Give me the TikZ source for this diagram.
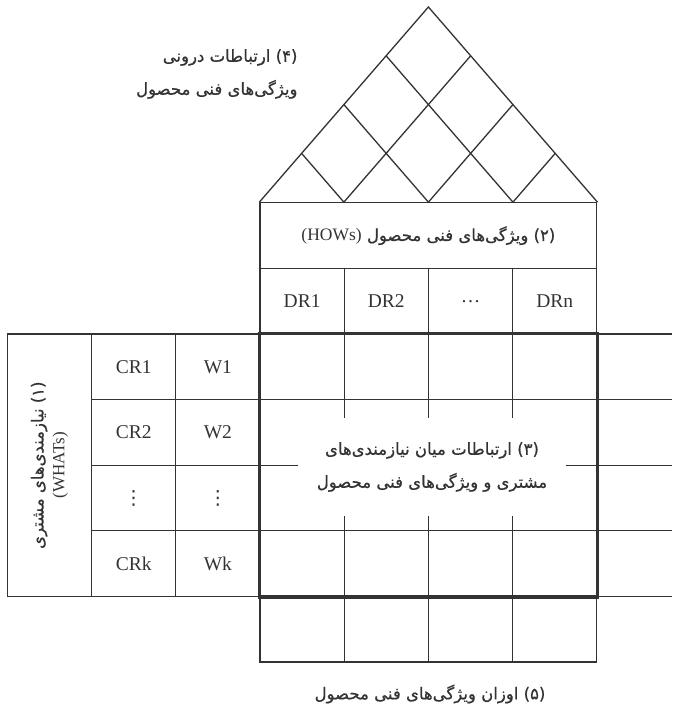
\documentclass[tikz,border=0pt]{standalone}
\usepackage{fontspec}
\setmainfont{Liberation Serif}
\newfontfamily\fa[Script=Arabic,FakeBold=0.6]{DejaVu Sans}
\newfontfamily\symfont{DejaVu Sans}
\usetikzlibrary{calc,positioning}
\TeXXeTstate=1
\colorlet{QfdLine}{black!80}
\colorlet{QfdText}{black!80}

\begin{document}
\begin{tikzpicture}[x=1pt,y=-1pt,every node/.style={text=QfdText},
    cell/.style={draw=QfdLine,line width=1.3pt,minimum width=84.2pt,minimum height=65.6pt,inner sep=0pt,font=\fontsize{19.5}{22}\selectfont},
    fa/.style={font=\fa\fontsize{16.5}{33}\selectfont,align=center},
    lat/.style={font=\rmfamily\fontsize{17}{20}\selectfont}]
    \useasboundingbox (0,0) rectangle (672,706);
    % main matrix
    \foreach \r in {0,...,3}{\foreach \c in {0,...,3}{\node[cell] (m\r\c) at ({302.1+84.2*\c},{366.8+65.6*\r}) {};}}
    \node[fa,fill=white,minimum width=268pt,minimum height=98pt] (rel) at (432,467) {\beginR (۳) ارتباطات میان نیازمندی^^^^200cهای\endR\\\beginR مشتری و ویژگی^^^^200cهای فنی محصول\endR};
    % whats
    \node[cell,rotate=90,minimum width=262.4pt,minimum height=84.2pt,align=center,font=\fa\fontsize{16.5}{21}\selectfont] (whats) at (49.5,465.2) {\beginR (۱) نیازمندی^^^^200cهای مشتری\endR\\{\rmfamily\fontsize{17}{20}\selectfont (WHATs)}};
    \foreach \lab/\w [count=\r from 0] in {CR1/W1,CR2/W2,{\symfont ⋮}/{\symfont ⋮},CRk/Wk}{
      \node[cell] (cr\r) at (133.7,{366.8+65.6*\r}) {\lab};
      \node[cell] (w\r) at (217.9,{366.8+65.6*\r}) {\w};
    }
    % hows
    \foreach \lab [count=\c from 0] in {DR1,DR2,\ldots,DRn}{\node[cell] (dr\c) at ({302.1+84.2*\c},301.2) {\lab};}
    \node[cell,minimum width=336.8pt,font=\fa\fontsize{16.5}{20}\selectfont] (hows) at (428.4,235.6) {\beginR (۲) ویژگی^^^^200cهای فنی محصول \beginL{\rmfamily\fontsize{17.5}{20}\selectfont (HOWs)}\endL\endR};
    % weights
    \foreach \c in {0,...,3}{\node[cell] (wt\c) at ({302.1+84.2*\c},629.2) {};}
    \foreach \y in {334,399.6,465.2,530.8,596.4}{\draw[QfdLine,line width=1.3pt] (596.8,\y) -- (672,\y);}
    \draw[QfdLine,line width=3.5pt] (m00.north west) rectangle (m33.south east);
    % roof
    \coordinate (top) at (428.4,7);
    \draw[QfdLine,line width=1.3pt] (hows.north west) -- (top) -- (hows.north east);
    \foreach \i in {1,2,3}{
      \draw[QfdLine,line width=1.3pt] ($(hows.north west)!\i/4!(hows.north east)$) -- ($(hows.north west)!\i/4!(top)$);
      \draw[QfdLine,line width=1.3pt] ($(hows.north west)!\i/4!(hows.north east)$) -- ($(hows.north east)!{1-\i/4}!(top)$);
    }
    \node[fa,align=right,anchor=east] (roofnote) at (301,74) {\beginR (۴) ارتباطات درونی\endR\\\beginR ویژگی^^^^200cهای فنی محصول\endR};
    \node[fa] (weightsnote) at (430,694) {\beginR (۵) اوزان ویژگی^^^^200cهای فنی محصول\endR};
  \end{tikzpicture}
\end{document}
